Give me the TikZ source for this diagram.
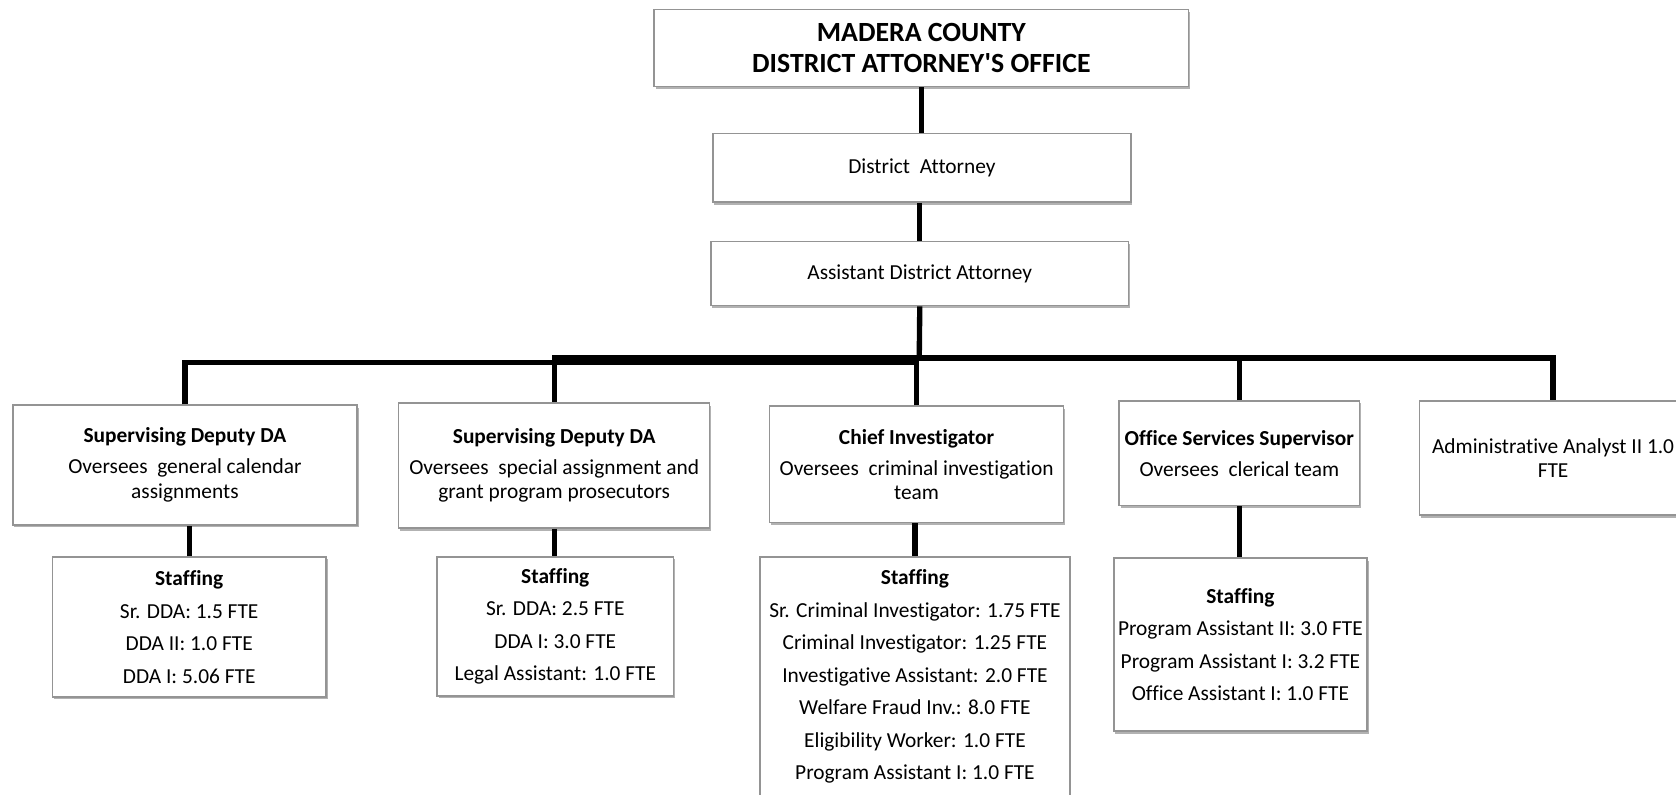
\documentclass[tikz,border=0pt]{standalone}
\usepackage{fontspec}
\setmainfont{Carlito}[Ligatures={TeXOff,NoCommon}]
\usetikzlibrary{shadows}
\tikzset{
  box/.style={draw=black!42, line width=0.7pt, fill=white, rectangle, inner sep=0pt, align=center,
    drop shadow={shadow xshift=0.7pt, shadow yshift=-1.2pt, fill=black, opacity=0.3}},
  supbox/.style={box, font=\fontsize{10}{11.5}\selectfont},
  stafbox/.style={box, font=\fontsize{10}{15.2}\selectfont},
  link/.style={line width=2.5pt, black},
}
\begin{document}
\begin{tikzpicture}[x=0.5pt, y=-0.5pt]
\useasboundingbox (0,0) rectangle (1568,743);
\fill[white] (0,0) rectangle (1568,743);
\clip (0,0) rectangle (1568,743);

% top chain
\node[box, minimum width=250pt, minimum height=36pt, font=\fontsize{13}{14.5}\selectfont\bfseries]
  (title) at (862,45) {MADERA COUNTY\\DISTRICT ATTORNEY'S OFFICE};
\node[box, minimum width=195.5pt, minimum height=32pt, font=\fontsize{10}{12}\selectfont]
  (da) at (862.5,157) {District\ \ Attorney};
\node[box, minimum width=195.5pt, minimum height=30pt, font=\fontsize{10}{12}\selectfont]
  (ada) at (860.5,256) {Assistant District Attorney};

% second level
\node[supbox, minimum width=161pt, minimum height=56pt] (b1) at (173,435)
  {\textbf{Supervising Deputy DA}\\[3pt]Oversees\ \ general calendar\\assignments};
\node[supbox, minimum width=145.5pt, minimum height=58.5pt] (b2) at (518.5,435.5)
  {\textbf{Supervising Deputy DA}\\[3pt]Oversees\ \ special assignment and\\grant program prosecutors};
\node[supbox, minimum width=137.5pt, minimum height=54.5pt] (b3) at (857.5,434.5)
  {\textbf{Chief Investigator}\\[3pt]Oversees\ \ criminal investigation\\team};
\node[supbox, minimum width=112.5pt, minimum height=49pt] (b4) at (1159.5,424)
  {\textbf{Office Services Supervisor}\\[3pt]Oversees\ \ clerical team};
\node[supbox, minimum width=125pt, minimum height=53.5pt] (b5) at (1453,428.5)
  {Administrative Analyst II 1.0\\FTE};

% staffing
\node[stafbox, minimum width=128pt, minimum height=65.5pt] (s1) at (177,586.5)
  {\textbf{Staffing}\\Sr. DDA: 1.5 FTE\\DDA II: 1.0 FTE\\DDA I: 5.06 FTE};
\node[stafbox, minimum width=110.5pt, minimum height=65pt] (s2) at (519.5,586)
  {\textbf{Staffing}\\Sr. DDA: 2.5 FTE\\DDA I: 3.0 FTE\\Legal Assistant: 1.0 FTE};
\node[stafbox, minimum width=145pt, minimum height=112pt] (s3) at (856,633)
  {\textbf{Staffing}\\Sr. Criminal Investigator: 1.75 FTE\\Criminal Investigator: 1.25 FTE\\Investigative Assistant: 2.0 FTE\\Welfare Fraud Inv.: 8.0 FTE\\Eligibility Worker: 1.0 FTE\\Program Assistant I: 1.0 FTE};
\node[stafbox, minimum width=118.5pt, minimum height=81pt] (s4) at (1160.5,603)
  {\textbf{Staffing}\\Program Assistant II: 3.0 FTE\\Program Assistant I: 3.2 FTE\\Office Assistant I: 1.0 FTE};

% connectors
\coordinate (hub) at (860,335);
\coordinate (hubL) at (860,339);
\draw[link] (title.south) -- (title.south |- da.north);
\draw[link] (ada.north |- da.south) -- (ada.north);
\draw[link] (ada.south) -- (hub);
\draw[link] (b1.north) |- (hubL);
\draw[link] (b2.north) |- (hub) -| (b5.north);
\draw[link] (b3.north) -- (b3.north |- hub);
\draw[link] (b4.north) -- (b4.north |- hub);
\draw[link] (s1.north) -- (s1.north |- b1.south);
\draw[link] (b2.south) -- (b2.south |- s2.north);
\draw[link] (s3.north) -- (s3.north |- b3.south);
\draw[link] (b4.south) -- (b4.south |- s4.north);
\end{tikzpicture}
\end{document}
